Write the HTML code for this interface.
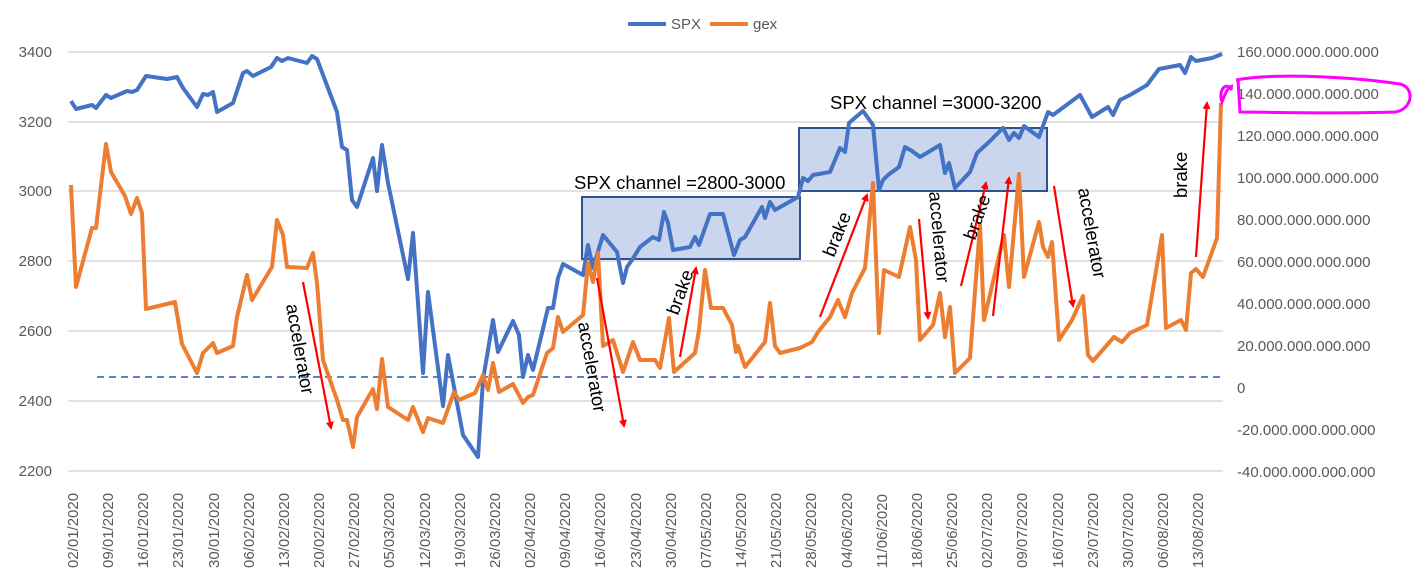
<!DOCTYPE html>
<html><head><meta charset="utf-8"><style>
body{margin:0;background:#fff;}
svg{display:block;font-family:"Liberation Sans",Calibri,sans-serif;}
.ax{font-size:15px;fill:#595959;}
.ann{font-size:18.5px;fill:#000;}
</style></head><body>
<svg width="1412" height="583" viewBox="0 0 1412 583">
<rect width="1412" height="583" fill="#fff"/>
<g stroke="#d9d9d9" stroke-width="1.5">
<line x1="68" x2="1223" y1="52" y2="52"/><line x1="68" x2="1223" y1="122" y2="122"/>
<line x1="68" x2="1223" y1="191" y2="191"/><line x1="68" x2="1223" y1="261" y2="261"/>
<line x1="68" x2="1223" y1="331" y2="331"/><line x1="68" x2="1223" y1="401" y2="401"/>
<line x1="68" x2="1223" y1="471" y2="471"/>
</g>
<g class="ax" text-anchor="end">
<text x="52" y="57">3400</text><text x="52" y="127">3200</text><text x="52" y="196">3000</text>
<text x="52" y="266">2800</text><text x="52" y="336">2600</text><text x="52" y="406">2400</text>
<text x="52" y="476">2200</text>
</g>
<g class="ax">
<text x="1237" y="57">160.000.000.000.000</text><text x="1237" y="99">140.000.000.000.000</text>
<text x="1237" y="141">120.000.000.000.000</text><text x="1237" y="183">100.000.000.000.000</text>
<text x="1237" y="225">80.000.000.000.000</text><text x="1237" y="267">60.000.000.000.000</text>
<text x="1237" y="309">40.000.000.000.000</text><text x="1237" y="351">20.000.000.000.000</text>
<text x="1237" y="393">0</text><text x="1237" y="435">-20.000.000.000.000</text>
<text x="1237" y="477">-40.000.000.000.000</text>
</g>
<g class="ax" font-size="14">
<line x1="628" x2="666" y1="24" y2="24" stroke="#4472c4" stroke-width="4"/>
<text x="671" y="29">SPX</text>
<line x1="710" x2="748" y1="24" y2="24" stroke="#ed7d31" stroke-width="4"/>
<text x="753" y="29">gex</text>
</g>
<rect x="582" y="197" width="218" height="62" fill="#c9d6ee" stroke="#2f528f" stroke-width="2"/>
<rect x="799" y="128" width="248" height="63" fill="#c9d6ee" stroke="#2f528f" stroke-width="2"/>
<line x1="97" x2="1224" y1="377" y2="377" stroke="#4472c4" stroke-width="1.8" stroke-dasharray="7,5"/>
<polyline fill="none" stroke="#4472c4" stroke-width="4" stroke-linejoin="round" points="71,101 76,109 92,105 96,108 106,95 111,98 127,91 132,92 137,90 146,76 167,79 177,77 183,88 197,107 203,94 208,95 213,92 217,112 233,103 243,73 247,71 253,76 271,67 277,58 282,61 288,58 307,63 312,56 317,59 337,112 342,147 347,150 352,200 357,207 373,158 377,191 382,145 388,183 408,279 413,233 423,373 428,292 443,406 448,355 463,435 478,457 483,380 493,320 498,352 513,321 519,335 523,377 528,355 533,370 548,308 553,308 558,278 563,264 583,275 588,245 593,268 603,235 617,252 623,283 627,267 632,260 640,247 653,237 659,240 664,212 668,223 673,250 690,247 695,237 699,245 710,214 723,214 734,255 740,240 745,237 762,207 765,218 770,202 775,210 798,197 803,178 808,181 813,175 830,172 840,148 845,152 849,123 863,111 873,125 879,190 883,180 888,175 899,167 905,147 912,151 920,157 940,145 945,173 949,163 955,188 970,172 977,153 989,142 1003,128 1009,140 1014,133 1019,138 1024,126 1039,137 1048,112 1053,115 1080,95 1092,117 1108,107 1113,115 1120,100 1130,95 1147,85 1159,69 1180,65 1185,73 1191,57 1196,61 1212,58 1222,54"/>
<polyline fill="none" stroke="#ed7d31" stroke-width="4" stroke-linejoin="round" points="71,185 76,287 92,228 96,228 106,144 111,172 125,196 131,214 137,198 142,213 146,309 175,302 182,344 197,373 203,353 213,343 217,353 233,346 237,317 247,275 252,300 272,267 277,220 283,235 287,267 307,268 313,253 317,283 323,360 337,400 343,420 347,420 353,447 357,417 373,389 377,409 382,359 388,407 408,420 413,407 423,432 428,418 443,423 454,392 459,400 475,393 483,375 488,390 493,363 499,392 513,384 523,403 528,397 533,395 547,353 553,348 558,317 563,332 583,315 588,263 593,282 598,253 603,346 613,340 623,372 633,342 640,360 655,360 660,368 669,318 674,372 695,353 699,330 705,270 711,308 723,308 732,325 736,352 738,346 745,367 765,342 770,303 775,346 780,353 800,348 812,342 818,332 830,317 838,300 845,317 852,293 865,268 873,183 879,333 884,270 899,277 910,227 916,260 920,340 933,325 940,293 945,337 950,307 955,373 970,358 980,225 984,320 1004,235 1009,287 1019,174 1024,277 1039,222 1043,247 1048,257 1052,242 1059,340 1072,320 1083,296 1088,355 1093,361 1114,337 1122,342 1130,333 1147,325 1162,235 1166,328 1181,320 1186,330 1191,273 1196,269 1203,277 1217,238 1221,103"/>
<defs><marker id="ah" markerWidth="8" markerHeight="8" refX="6" refY="4" orient="auto" markerUnits="userSpaceOnUse"><path d="M0,0 L8,4 L0,8 z" fill="#ff0000"/></marker></defs>
<g stroke="#ff0000" stroke-width="2.2" marker-end="url(#ah)">
<line x1="303" y1="282" x2="331" y2="428"/>
<line x1="597" y1="278" x2="624" y2="426"/>
<line x1="680" y1="357" x2="696" y2="268"/>
<line x1="820" y1="317" x2="867" y2="195"/>
<line x1="919" y1="219" x2="928" y2="318"/>
<line x1="961" y1="286" x2="986" y2="183"/>
<line x1="993" y1="316" x2="1009" y2="178"/>
<line x1="1054" y1="186" x2="1073" y2="306"/>
<line x1="1196" y1="257" x2="1207" y2="103"/>
</g>
<g class="ann">
<text x="574" y="189">SPX channel =2800-3000</text>
<text x="830" y="109">SPX channel =3000-3200</text>
<text transform="translate(286,305) rotate(80)">accelerator</text>
<text transform="translate(578,323) rotate(80)">accelerator</text>
<text transform="translate(929,192) rotate(85)">accelerator</text>
<text transform="translate(1078,189) rotate(80)">accelerator</text>
<text transform="translate(678,316) rotate(-70)">brake</text>
<text transform="translate(834,258) rotate(-68)">brake</text>
<text transform="translate(975,241) rotate(-70)">brake</text>
<text transform="translate(1187,198) rotate(-90)">brake</text>
</g>
<path d="M1236,80 C1280,72 1360,78 1400,84 C1416,88 1412,110 1395,112 C1330,114 1270,112 1240,112 L1238,80 M1232,90 C1225,80 1218,92 1222,102 C1225,94 1228,86 1233,86" fill="none" stroke="#ff00ff" stroke-width="3"/>
<g class="ax" font-size="15.5">
<text transform="translate(78,568) rotate(-90)">02/01/2020</text>
<text transform="translate(113,568) rotate(-90)">09/01/2020</text>
<text transform="translate(148,568) rotate(-90)">16/01/2020</text>
<text transform="translate(183,568) rotate(-90)">23/01/2020</text>
<text transform="translate(219,568) rotate(-90)">30/01/2020</text>
<text transform="translate(254,568) rotate(-90)">06/02/2020</text>
<text transform="translate(289,568) rotate(-90)">13/02/2020</text>
<text transform="translate(324,568) rotate(-90)">20/02/2020</text>
<text transform="translate(359,568) rotate(-90)">27/02/2020</text>
<text transform="translate(394,568) rotate(-90)">05/03/2020</text>
<text transform="translate(430,568) rotate(-90)">12/03/2020</text>
<text transform="translate(465,568) rotate(-90)">19/03/2020</text>
<text transform="translate(500,568) rotate(-90)">26/03/2020</text>
<text transform="translate(535,568) rotate(-90)">02/04/2020</text>
<text transform="translate(570,568) rotate(-90)">09/04/2020</text>
<text transform="translate(605,568) rotate(-90)">16/04/2020</text>
<text transform="translate(641,568) rotate(-90)">23/04/2020</text>
<text transform="translate(676,568) rotate(-90)">30/04/2020</text>
<text transform="translate(711,568) rotate(-90)">07/05/2020</text>
<text transform="translate(746,568) rotate(-90)">14/05/2020</text>
<text transform="translate(781,568) rotate(-90)">21/05/2020</text>
<text transform="translate(816,568) rotate(-90)">28/05/2020</text>
<text transform="translate(852,568) rotate(-90)">04/06/2020</text>
<text transform="translate(887,568) rotate(-90)">11/06/2020</text>
<text transform="translate(922,568) rotate(-90)">18/06/2020</text>
<text transform="translate(957,568) rotate(-90)">25/06/2020</text>
<text transform="translate(992,568) rotate(-90)">02/07/2020</text>
<text transform="translate(1027,568) rotate(-90)">09/07/2020</text>
<text transform="translate(1063,568) rotate(-90)">16/07/2020</text>
<text transform="translate(1098,568) rotate(-90)">23/07/2020</text>
<text transform="translate(1133,568) rotate(-90)">30/07/2020</text>
<text transform="translate(1168,568) rotate(-90)">06/08/2020</text>
<text transform="translate(1203,568) rotate(-90)">13/08/2020</text>
</g>
</svg>
</body></html>
